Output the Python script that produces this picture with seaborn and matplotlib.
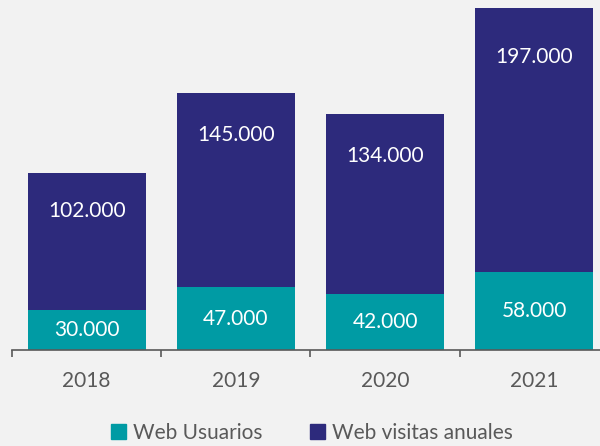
import numpy as np
import pandas as pd
import matplotlib.pyplot as plt
from matplotlib.patches import Patch
import seaborn as sns

# data
years = ['2018', '2019', '2020', '2021']
usuarios = [30000, 47000, 42000, 58000]
visitas = [102000, 145000, 134000, 197000]
series_names = ['Web Usuarios', 'Web visitas anuales']

TEAL = '#009ba4'
NAVY = '#2d2a7c'
BG = '#f2f2f2'
GREY = '#595959'

sns.set_theme(style='white', rc={'figure.facecolor': BG, 'axes.facecolor': BG})
plt.rcParams['font.family'] = ['Lato', 'DejaVu Sans']

df = pd.DataFrame({'year': years, 'usuarios': usuarios, 'visitas': visitas})
df['total'] = df['usuarios'] + df['visitas']

fig = plt.figure(figsize=(6.0, 4.46), dpi=100)
ax = fig.add_axes([0.02, 0.2152, 0.995, 0.7848])

# stacked: full height in navy, teal drawn over the bottom part
sns.barplot(data=df, x='year', y='total', color=NAVY, width=0.79,
            saturation=1, linewidth=0, ax=ax)
sns.barplot(data=df, x='year', y='usuarios', color=TEAL, width=0.79,
            saturation=1, linewidth=0, ax=ax)

ax.set_ylim(0, 261000)
ax.set_xlim(-0.5, len(years) - 0.5)

# labels
for i, row in df.iterrows():
    ax.text(i, row['usuarios'] / 2, f"{row['usuarios']:,}".replace(',', '.'),
            ha='center', va='center', color='white', fontsize=15)
    off = 26 + 0.087 * row['visitas'] * 1.3333 / 1000
    ax.annotate(f"{row['visitas']:,}".replace(',', '.'), (i, row['total']),
                xytext=(0, -off * 0.72), textcoords='offset points',
                ha='center', va='center', color='white', fontsize=15)

for s in ['left', 'top', 'right']:
    ax.spines[s].set_visible(False)
ax.spines['bottom'].set_color(GREY)
ax.spines['bottom'].set_linewidth(1.2)
ax.set_yticks([])
ax.set_xlabel('')
ax.set_ylabel('')
ax.tick_params(axis='x', which='major', length=0, pad=15, labelsize=15,
               labelcolor=GREY)
ax.set_xticks(np.arange(-0.5, len(years)), minor=True)
ax.tick_params(axis='x', which='minor', length=5, width=1.2, color=GREY,
               direction='out', bottom=True)

handles = [Patch(color=TEAL), Patch(color=NAVY)]
fig.legend(handles, series_names, loc='center', bbox_to_anchor=(0.52, 0.03),
           ncol=2, frameon=False, fontsize=15, handlelength=0.7,
           handleheight=0.7, handletextpad=0.35, columnspacing=2.3,
           labelcolor=GREY)

fig.savefig('out.png', dpi=100, facecolor=BG)
